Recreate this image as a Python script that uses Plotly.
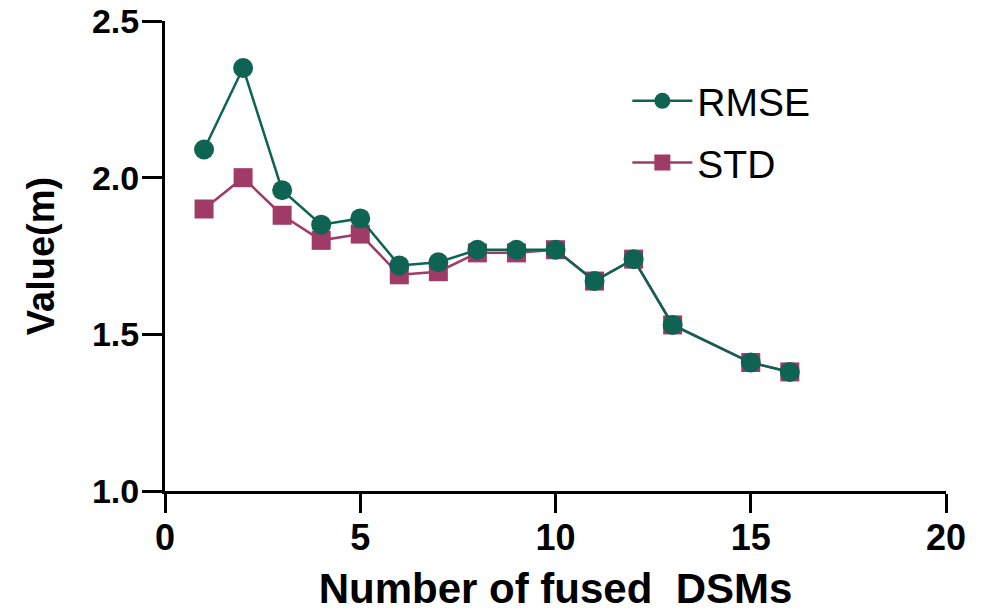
import plotly.graph_objects as go

fused_count = [1, 2, 3, 4, 5, 6, 7, 8, 9, 10, 11, 12, 13, 15, 16]
rmse = [2.09, 2.35, 1.96, 1.85, 1.87, 1.72, 1.73, 1.77, 1.77, 1.77, 1.67, 1.74, 1.53, 1.41, 1.38]
std = [1.90, 2.00, 1.88, 1.80, 1.82, 1.69, 1.70, 1.76, 1.76, 1.77, 1.67, 1.74, 1.53, 1.41, 1.38]
x_ticks = [0, 5, 10, 15, 20]
y_ticks = [1.0, 1.5, 2.0, 2.5]

green = "#0f6352"
magenta = "#a03a66"
font_family = "Liberation Sans, Arial, sans-serif"

fig = go.Figure()
fig.add_trace(go.Scatter(
    x=fused_count, y=std, name="STD", mode="lines+markers",
    legendgroup="std", legendrank=2,
    line=dict(color=magenta, width=2.5),
    marker=dict(symbol="square", size=19, color=magenta),
))
fig.add_trace(go.Scatter(
    x=fused_count, y=rmse, name="RMSE", mode="lines+markers",
    legendgroup="rmse", legendrank=1,
    line=dict(color=green, width=2.5),
    marker=dict(symbol="circle", size=20, color=green),
))

fig.update_layout(
    width=989, height=612,
    margin=dict(l=165, r=43, t=21, b=121),
    plot_bgcolor="white", paper_bgcolor="white",
    font=dict(family=font_family, color="black"),
    legend=dict(
        x=0.592, y=0.898, xanchor="left", yanchor="top",
        traceorder="grouped", tracegroupgap=8,
        font=dict(size=39, family=font_family, color="black"),
        bgcolor="rgba(0,0,0,0)", itemwidth=60,
    ),
    xaxis=dict(
        range=[0, 20], tickvals=x_ticks, ticktext=[str(v) for v in x_ticks],
        showline=True, linecolor="black", linewidth=3,
        ticks="outside", ticklen=19, tickwidth=3, tickcolor="black",
        showgrid=False, zeroline=False, automargin=False,
        ticklabelstandoff=-6, ticklabeloverflow="allow",
        tickfont=dict(size=36, family=font_family, weight="bold"),
        title=dict(text="Number of fused\u00a0\u00a0DSMs", standoff=20,
                   font=dict(size=42, family=font_family, weight="bold")),
    ),
    yaxis=dict(
        range=[1.0, 2.5], tickvals=y_ticks, ticktext=["1.0", "1.5", "2.0", "2.5"],
        showline=True, linecolor="black", linewidth=3,
        ticks="outside", ticklen=20, tickwidth=3, tickcolor="black",
        showgrid=False, zeroline=False, automargin=False,
        ticklabelstandoff=-4, ticklabeloverflow="allow",
        tickfont=dict(size=34, family=font_family, weight="bold"),
        title=dict(text="Value(m)", standoff=26,
                   font=dict(size=38, family=font_family, weight="bold")),
    ),
)

# remove the default 8px page margin so the 989x612 figure fills the window exactly
fig.write_html("out.html", config={"displayModeBar": False},
               post_script="document.body.style.margin='0';")
